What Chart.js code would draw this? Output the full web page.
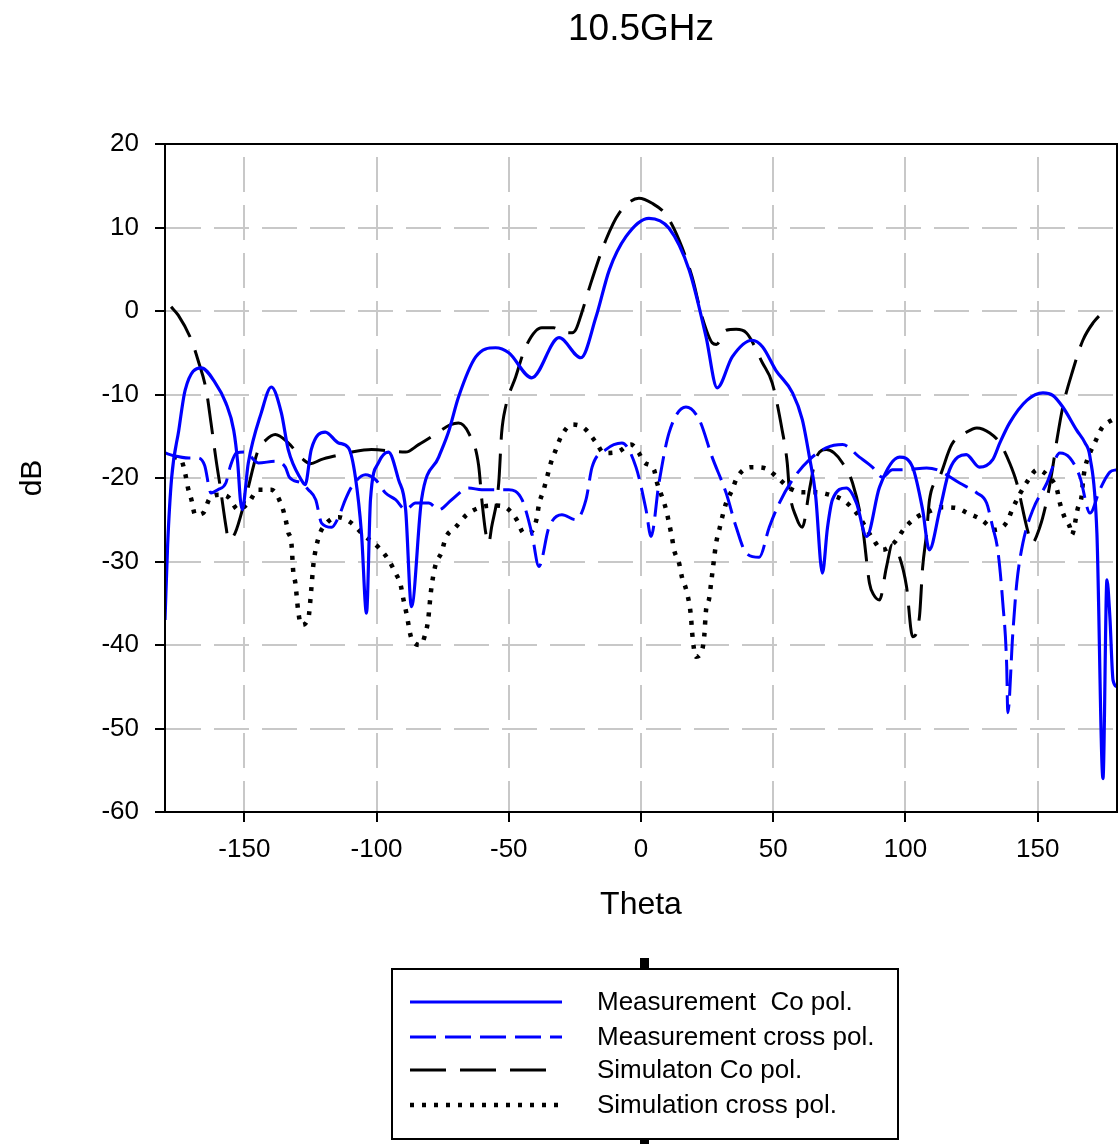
<!DOCTYPE html>
<html>
<head>
<meta charset="utf-8">
<title>10.5GHz</title>
<script src="https://cdn.jsdelivr.net/npm/chart.js@4.4.0/dist/chart.umd.min.js"></script>
<style>
  html, body { margin: 0; padding: 0; background: #ffffff; }
  #wrap { width: 1120px; height: 1144px; }
</style>
</head>
<body>
<div id="wrap"><canvas id="chart" width="1120" height="1144"></canvas></div>
<script>
// tick labels
const xTicks = [-150, -100, -50, 0, 50, 100, 150];

// Measurement Co pol.
const mcoTheta = [-180, -179, -177.5, -174.8, -172.4, -166.3, -161, -157, -154, -152.5, -151.5, -150.8, -148.5, -143.6, -139.8, -136, -133.4, -128.5, -127, -124.7, -119.4, -114.4, -110.6, -108, -105.7, -103.8, -102.3, -99.3, -95.5, -91.7, -89, -86.8, -83, -76.5, -72.8, -69, -62.5, -55, -50, -41.3, -31, -22.7, -17, -12, -5.7, 3, 10.6, 18.2, 24.6, 28.8, 34.5, 42, 46, 51, 57.3, 61, 63.7, 66, 68.6, 70.5, 72.4, 77.7, 81.5, 85.3, 90.2, 97.8, 102.7, 106.5, 109, 113, 116.7, 123, 128, 133, 135.7, 139.4, 145.9, 152, 155.7, 159.5, 164.8, 167.9, 169.8, 172.4, 174.7, 176.2, 177.3, 178.5, 180];
const mcoDb = [-37, -28, -20, -14.3, -9.5, -6.8, -8.6, -11, -14.3, -18.2, -22.6, -23.8, -18.2, -12.2, -9.1, -12.2, -16.6, -20.2, -20.8, -16.6, -14.5, -15.8, -16.4, -19.9, -26.6, -36.2, -22.6, -18.2, -16.9, -20.2, -23.8, -35.4, -22.6, -17.5, -14.5, -10.3, -5.5, -4.4, -5.0, -8.0, -3.2, -5.6, -0.7, 4.9, 8.9, 11.1, 9.9, 4.9, -3.1, -9.2, -5.5, -3.5, -4.3, -7.1, -9.8, -13, -17.5, -22, -31.4, -26, -22.6, -21.2, -23, -27, -21.1, -17.5, -18.7, -23.8, -28.6, -23.8, -19, -17.2, -18.7, -17.8, -15.8, -13.4, -10.7, -9.8, -10.1, -11.5, -14.3, -15.8, -17.5, -26.6, -56, -32.2, -36.6, -44.2, -45];

// Measurement cross pol.
const mxTheta = [-180, -177, -171, -167.5, -165, -162.6, -160, -157, -155.4, -153, -149.7, -144.7, -138.3, -134.5, -133, -128.5, -125.8, -123, -120.8, -117, -114.4, -111.8, -109.5, -104.2, -100.4, -96.6, -92.8, -89, -85.3, -80.3, -76.5, -71.6, -65.2, -60.2, -50, -45, -41.3, -38.6, -34.8, -29.9, -24.6, -20.8, -18.5, -13.3, -7.2, -1.9, 1.9, 3.8, 6.8, 10.6, 17, 22, 26.9, 32.2, 36, 39.8, 44.7, 48.5, 52.3, 57.3, 63.7, 70, 76.2, 82.6, 87.5, 91.3, 95.1, 100.4, 108, 111.8, 120.5, 127, 130.7, 133, 134.9, 136.8, 138.3, 138.7, 140.6, 142.1, 144.4, 148.2, 153.5, 158.4, 162.2, 166, 169.8, 173.5, 177.3, 180];
const mxDb = [-17, -17.3, -17.6, -17.6, -18.5, -21.8, -21.4, -20.6, -18.7, -17, -16.9, -18.2, -18, -18.7, -19.9, -20.6, -21.4, -22.6, -25.4, -25.9, -24.7, -22.6, -21.1, -19.6, -20.2, -21.8, -22.6, -23.8, -23, -23, -23.8, -22.6, -21.2, -21.4, -21.4, -22.6, -26.6, -30.6, -25.9, -24.4, -25, -22.6, -18.7, -16.6, -15.8, -18.7, -23.8, -27, -20.6, -14.6, -11.5, -13, -17.5, -21.8, -25.9, -29, -29.5, -25.9, -23, -20.2, -17.8, -16.4, -16, -17.5, -18.7, -19.9, -19, -19, -18.8, -19, -20.6, -21.8, -23, -25.9, -28.6, -34.9, -42.6, -48.1, -38.6, -32.6, -27.8, -23.8, -20.6, -17, -17.6, -19.9, -24.2, -21.4, -19.3, -19];

// Simulaton Co pol.
const scoTheta = [-177.7, -175, -170, -167.5, -164.4, -162.6, -160.7, -159.1, -156.9, -156, -153.5, -149.7, -144.7, -142, -138.3, -133.4, -127.7, -125, -121, -115, -109.5, -101.9, -89, -84.1, -78, -72, -69, -65.2, -61.4, -60.2, -58.7, -57.6, -56.5, -53.8, -52.7, -51.2, -47.4, -43.6, -37.5, -33, -29.9, -26, -24.6, -22.4, -18.6, -13.3, -8.3, -0.8, 4.2, 9.5, 14.4, 19.3, 23.1, 26.9, 28.5, 32.2, 36, 39.8, 45.9, 49.6, 53.4, 55.3, 56.1, 58.7, 61, 63.7, 66.3, 70.1, 73, 76.2, 80, 83.8, 86.4, 88, 90.2, 92.8, 95, 97.8, 100.4, 102.7, 105.3, 106.5, 108, 109.1, 112.9, 117.5, 123.2, 127, 131.9, 135.7, 139.4, 142.1, 145.9, 147.8, 150.8, 153.5, 155.7, 157.3, 159.5, 163.3, 167.1, 171, 175.4];
const scoDb = [0.5, -0.5, -3.5, -5.9, -9.5, -13.4, -17.8, -21.1, -25.9, -27.4, -26.6, -22.6, -16.6, -15.5, -14.8, -15.8, -17.8, -18.3, -17.8, -17.3, -16.9, -16.6, -16.9, -16, -14.8, -13.6, -13.4, -14.6, -18.5, -22.6, -26.6, -27.8, -25.9, -20.6, -14.6, -11.5, -7.9, -4.3, -2.0, -2.0, -2.5, -2.6, -2.2, -0.2, 3.7, 8.5, 11.7, 13.5, 12.9, 11.5, 8.5, 4.1, -0.7, -3.8, -4.0, -2.3, -2.2, -2.6, -6.2, -8.6, -14.3, -18.2, -21.4, -24.7, -25.9, -21.4, -17.5, -16.6, -17, -18.2, -20.6, -25.9, -32.6, -34, -34.6, -30.7, -28, -29.5, -33, -39, -36.6, -30.7, -26.6, -22.6, -19.9, -16, -14.5, -14, -14.6, -15.8, -18.2, -20.6, -25.9, -27.8, -25.9, -22.6, -18.7, -15.4, -11.5, -7.1, -3.5, -1.4, 0.1];

// Simulation cross pol.
const sxTheta = [-177, -174, -172.4, -171.3, -170, -168.6, -165.6, -163, -159, -156, -152.3, -148.5, -144.7, -139.8, -136, -134.5, -133.4, -132.2, -131.5, -130.7, -129.6, -128.5, -125.8, -124.7, -123.9, -122, -119.4, -114.4, -109.9, -105, -99.3, -95.5, -92.8, -90.9, -89.8, -88.7, -86.8, -83.4, -81.5, -80.5, -79.4, -77.7, -75.4, -73.9, -70.1, -65.9, -60.6, -55, -50.8, -47, -44.3, -41.7, -39.4, -38.6, -36.8, -35.6, -34.1, -32.2, -30.3, -26.1, -21.6, -17.1, -14, -9.1, -3.8, -0.8, 1.1, 4.9, 6.1, 8, 9.5, 10.6, 11.7, 12.5, 14.4, 15.5, 17.1, 18.9, 19.3, 20.8, 23.1, 23.9, 24.6, 25.8, 26.5, 27.7, 28.4, 29.6, 30.7, 32.2, 34.5, 36.4, 41.7, 46.6, 51.5, 56.1, 61, 66.3, 71.2, 76.2, 81.5, 87.5, 91.3, 95.9, 99.7, 104.2, 109, 114.1, 119.4, 123.5, 128.8, 133.8, 138.3, 140.6, 145.9, 150, 154, 157.3, 158.4, 160.3, 162.2, 162.9, 165.2, 166.7, 167.1, 167.9, 169.8, 171.7, 174.3, 178.5, 180];
const sxDb = [-17.5, -17.8, -19.4, -21.2, -22.6, -24.4, -24.2, -22.4, -22, -22.3, -23.8, -23, -21.4, -21.4, -23.2, -24.8, -26.5, -27.8, -31.2, -32.6, -36, -37.6, -36.8, -33.4, -30.4, -27.2, -25.6, -24.7, -25.3, -26.8, -28.3, -29.8, -31.4, -32.8, -34.6, -36.2, -39.2, -40, -38.6, -37, -33.5, -30.4, -28.9, -27.2, -25.9, -24.4, -23.5, -23.3, -23.6, -25, -26.6, -26.5, -24.8, -23.2, -21.4, -20, -18.2, -16.6, -15.1, -13.6, -14, -15.7, -17, -16.9, -16, -17, -18.1, -19, -20.6, -22.3, -23.8, -25.4, -27.1, -28.6, -30.2, -31.9, -33.4, -36.6, -38.4, -41.4, -40.6, -39, -35.8, -34.4, -32.6, -29.5, -27.8, -26.2, -24.7, -23, -21.4, -19.9, -18.7, -18.8, -19.9, -21.2, -21.7, -21.7, -22, -22.6, -24.2, -27.2, -28.6, -27.7, -26, -24.7, -24, -23.5, -23.6, -24.2, -25, -26.2, -25.3, -23.6, -20.5, -19, -19.8, -21.4, -23, -24.8, -25.9, -26.8, -23.6, -22, -20.5, -18.8, -17, -15.7, -14, -13, -12.8];

const seriesNames = ['Measurement  Co pol.', 'Measurement cross pol.', 'Simulaton Co pol.', 'Simulation cross pol.'];

function pts(xs, ys) {
  return xs.map((x, i) => ({ x: x, y: ys[i] }));
}

const FONT = "'Liberation Sans', Arial, sans-serif";

// frame around the plot + boxed legend under the axis
const framePlugin = {
  id: 'frame',
  afterDraw(chart) {
    const { ctx, chartArea: a } = chart;
    ctx.save();
    ctx.strokeStyle = '#000';
    ctx.lineWidth = 2;
    ctx.setLineDash([]);
    ctx.strokeRect(a.left, a.top, a.right - a.left, a.bottom - a.top);

    // legend box
    const bx = 392, by = 969, bw = 506, bh = 170;
    ctx.fillStyle = '#000';
    ctx.fillRect(640, 958, 9, 11);
    ctx.fillRect(640, by + bh, 9, 1144 - by - bh);
    ctx.lineWidth = 2;
    ctx.strokeRect(bx, by, bw, bh);

    const rows = [1002, 1037, 1070, 1105];
    const ends = [562, 562, 546, 560];
    chart.data.datasets.forEach((ds, i) => {
      const y = rows[i];
      ctx.beginPath();
      ctx.strokeStyle = ds.borderColor;
      ctx.lineWidth = ds.borderWidth;
      ctx.lineCap = 'butt';
      ctx.setLineDash(ds.borderDash || []);
      ctx.moveTo(410, y);
      ctx.lineTo(ends[i], y);
      ctx.stroke();
      ctx.setLineDash([]);
      ctx.fillStyle = '#000';
      ctx.font = '26px ' + FONT;
      ctx.textAlign = 'left';
      ctx.textBaseline = 'middle';
      ctx.fillText(ds.label, 597, y + 1);
    });
    ctx.restore();
  }
};

function makeDataset(i, xs, ys, color, dash, width) {
  return {
    label: seriesNames[i],
    data: pts(xs, ys),
    borderColor: color,
    backgroundColor: color,
    borderWidth: width,
    borderDash: dash,
    borderCapStyle: 'butt',
    pointRadius: 0,
    fill: false,
    cubicInterpolationMode: 'monotone'
  };
}

new Chart(document.getElementById('chart').getContext('2d'), {
  type: 'line',
  data: {
    datasets: [
      makeDataset(0, mcoTheta, mcoDb, '#0000ff', [], 3.2),
      makeDataset(1, mxTheta, mxDb, '#0000ff', [26, 9], 3),
      makeDataset(2, scoTheta, scoDb, '#000000', [36, 14], 3),
      makeDataset(3, sxTheta, sxDb, '#000000', [4, 8], 4.5)
    ]
  },
  options: {
    responsive: false,
    animation: false,
    layout: { padding: { left: 0, right: 3, top: 0, bottom: 0 } },
    plugins: {
      legend: { display: false },
      tooltip: { enabled: false },
      title: {
        display: true,
        text: '10.5GHz',
        fullSize: false,
        color: '#000',
        font: { family: FONT, size: 37, weight: 'normal' },
        padding: { top: 8, bottom: 91.6 }
      }
    },
    scales: {
      x: {
        type: 'linear',
        min: -180,
        max: 180,
        afterBuildTicks: s => { s.ticks = xTicks.map(v => ({ value: v })); },
        afterFit: s => { s.height = 332; },
        border: { display: true, color: '#000', width: 2, dash: [35, 13], dashOffset: 35 },
        grid: {
          color: '#c8c8c8',
          lineWidth: 2,
          drawTicks: true,
          tickLength: 10,
          tickColor: '#000',
          tickWidth: 2,
          tickBorderDash: []
        },
        ticks: {
          color: '#000',
          padding: 12,
          maxRotation: 0,
          font: { family: FONT, size: 26 }
        },
        title: {
          display: true,
          text: 'Theta',
          color: '#000',
          font: { family: FONT, size: 32 },
          padding: { top: 0, bottom: 220 }
        }
      },
      y: {
        min: -60,
        max: 20,
        afterFit: s => { s.width = 165; },
        border: { display: true, color: '#000', width: 2, dash: [35, 13], dashOffset: 0 },
        grid: {
          color: '#c8c8c8',
          lineWidth: 2,
          drawTicks: true,
          tickLength: 10,
          tickColor: '#000',
          tickWidth: 2,
          tickBorderDash: []
        },
        ticks: {
          stepSize: 10,
          color: '#000',
          padding: 16,
          font: { family: FONT, size: 26 }
        },
        title: {
          display: true,
          text: 'dB',
          color: '#000',
          font: { family: FONT, size: 30 },
          padding: { top: 15, bottom: 0 }
        }
      }
    }
  },
  plugins: [framePlugin]
});
</script>
</body>
</html>
